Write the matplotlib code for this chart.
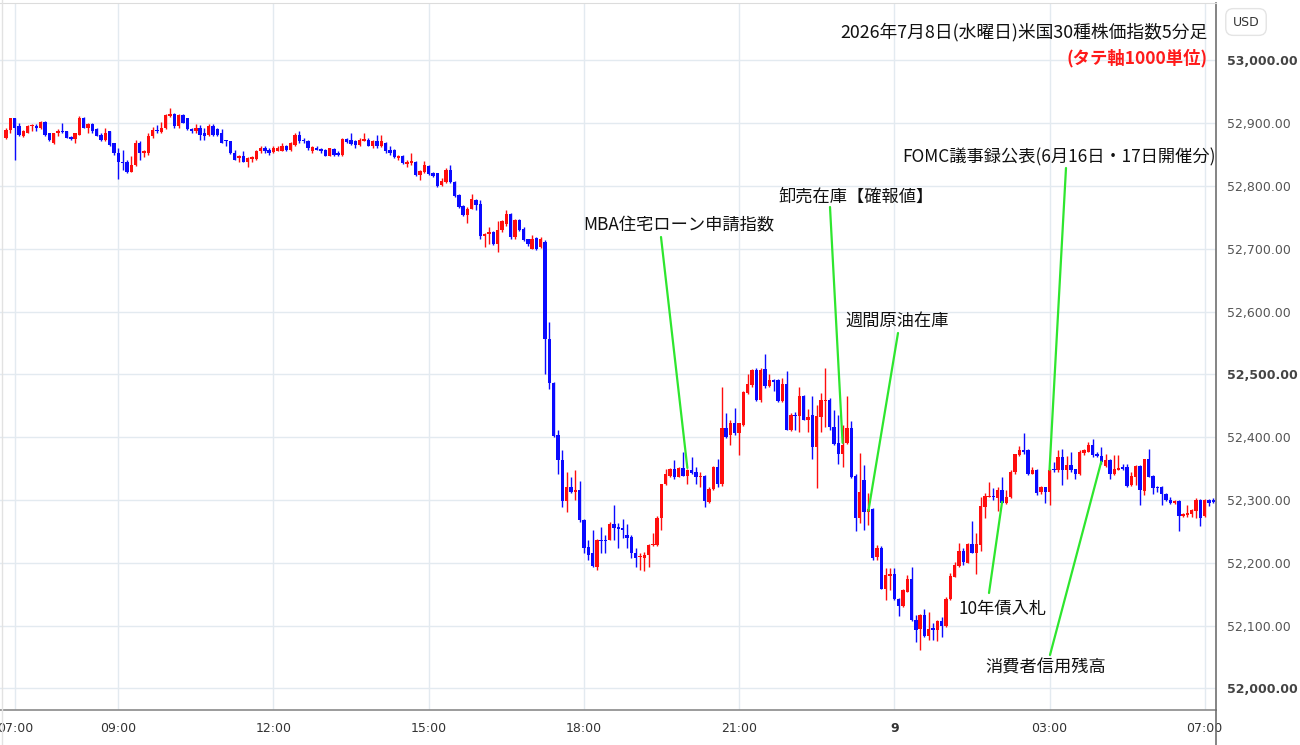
import matplotlib
matplotlib.use("Agg")
import matplotlib.pyplot as plt
from matplotlib.lines import Line2D

plt.rcParams['font.family'] = ['Noto Sans CJK JP', 'DejaVu Sans']

# ---------------- data (5-minute candles, index 0 = 07:00) ----------------
first_index = -2
opens = [
    52876, 52889, 52908, 52895, 52880, 52885, 52895, 52896, 52893, 52902,
    52884, 52868, 52884, 52888, 52887, 52878, 52875, 52882, 52909, 52892,
    52898, 52890, 52881, 52873, 52887, 52868, 52853, 52839, 52839, 52823,
    52833, 52869, 52852, 52852, 52879, 52889, 52886, 52892, 52912, 52914,
    52895, 52913, 52908, 52890, 52887, 52893, 52884, 52881, 52895, 52890,
    52884, 52872, 52871, 52852, 52844, 52847, 52839, 52843, 52843, 52855,
    52861, 52858, 52854, 52856, 52856, 52863, 52857, 52865, 52881, 52873,
    52872, 52856, 52860, 52859, 52857, 52848, 52859, 52853, 52849, 52875,
    52873, 52872, 52866, 52872, 52874, 52863, 52871, 52863, 52868, 52857,
    52857, 52844, 52848, 52835, 52836, 52839, 52817, 52823, 52832, 52821,
    52820, 52801, 52807, 52826, 52807, 52785, 52768, 52754, 52764, 52778,
    52771, 52720, 52723, 52727, 52707, 52730, 52739, 52755, 52718, 52746,
    52732, 52715, 52700, 52717, 52703, 52711, 52557, 52487, 52403, 52364,
    52298, 52320, 52313, 52316, 52268, 52225, 52215, 52193, 52237, 52236,
    52237, 52262, 52257, 52255, 52244, 52241, 52216, 52209, 52207, 52212,
    52228, 52229, 52272, 52325, 52339, 52350, 52337, 52351, 52339, 52348,
    52345, 52337, 52338, 52297, 52318, 52353, 52326, 52414, 52403, 52423,
    52406, 52419, 52471, 52483, 52507, 52459, 52508, 52481, 52491, 52491,
    52458, 52485, 52412, 52436, 52433, 52465, 52427, 52435, 52384, 52432,
    52458, 52460, 52417, 52390, 52374, 52391, 52415, 52338, 52272, 52332,
    52281, 52285, 52209, 52223, 52159, 52179, 52182, 52142, 52131, 52154,
    52174, 52109, 52094, 52117, 52083, 52096, 52093, 52107, 52100, 52142,
    52178, 52195, 52219, 52200, 52230, 52216, 52229, 52289, 52305, 52307,
    52303, 52316, 52296, 52304, 52344, 52372, 52380, 52380, 52342, 52348,
    52312, 52320, 52313, 52350, 52348, 52368, 52348, 52356, 52349, 52341,
    52375, 52377, 52388, 52373, 52370, 52354, 52364, 52342, 52348, 52353,
    52352, 52324, 52337, 52354, 52315, 52365, 52338, 52321, 52321, 52310,
    52300, 52296, 52299, 52274, 52276, 52278, 52283, 52300, 52274, 52300,
    52300,
]
highs = [
    52893, 52908, 52908, 52900, 52889, 52897, 52899, 52898, 52904, 52903,
    52885, 52885, 52890, 52901, 52888, 52880, 52885, 52912, 52910, 52900,
    52900, 52892, 52884, 52892, 52888, 52869, 52860, 52857, 52842, 52848,
    52873, 52871, 52858, 52884, 52894, 52897, 52902, 52915, 52924, 52916,
    52914, 52914, 52909, 52892, 52899, 52897, 52892, 52898, 52898, 52892,
    52890, 52873, 52872, 52857, 52849, 52855, 52846, 52848, 52857, 52863,
    52863, 52860, 52863, 52863, 52868, 52866, 52870, 52884, 52888, 52877,
    52873, 52864, 52864, 52860, 52859, 52861, 52860, 52856, 52876, 52877,
    52884, 52874, 52876, 52884, 52876, 52873, 52881, 52881, 52870, 52863,
    52859, 52850, 52849, 52841, 52853, 52840, 52825, 52840, 52833, 52823,
    52821, 52812, 52828, 52833, 52808, 52788, 52770, 52767, 52787, 52780,
    52777, 52725, 52734, 52729, 52745, 52746, 52762, 52757, 52747, 52747,
    52734, 52716, 52722, 52719, 52718, 52714, 52584, 52488, 52411, 52379,
    52345, 52337, 52347, 52331, 52270, 52236, 52252, 52238, 52257, 52244,
    52265, 52292, 52263, 52270, 52262, 52244, 52223, 52215, 52217, 52230,
    52248, 52274, 52326, 52350, 52351, 52364, 52353, 52377, 52350, 52368,
    52353, 52345, 52340, 52320, 52354, 52366, 52480, 52438, 52427, 52446,
    52423, 52474, 52501, 52508, 52510, 52510, 52533, 52501, 52492, 52492,
    52495, 52506, 52438, 52440, 52480, 52467, 52445, 52465, 52451, 52470,
    52510, 52462, 52443, 52435, 52419, 52465, 52426, 52342, 52375, 52356,
    52311, 52287, 52228, 52226, 52191, 52191, 52191, 52144, 52159, 52180,
    52193, 52117, 52118, 52127, 52122, 52104, 52109, 52114, 52145, 52183,
    52202, 52231, 52223, 52232, 52267, 52248, 52305, 52311, 52328, 52319,
    52321, 52336, 52316, 52348, 52374, 52386, 52407, 52382, 52352, 52350,
    52322, 52321, 52350, 52361, 52380, 52381, 52370, 52377, 52350, 52380,
    52382, 52393, 52397, 52377, 52384, 52373, 52365, 52372, 52372, 52358,
    52358, 52345, 52356, 52356, 52366, 52381, 52340, 52322, 52322, 52311,
    52304, 52300, 52300, 52279, 52292, 52285, 52303, 52301, 52301, 52301,
    52303,
]
lows = [
    52875, 52884, 52842, 52880, 52878, 52884, 52888, 52888, 52891, 52880,
    52872, 52867, 52880, 52885, 52876, 52874, 52868, 52881, 52892, 52885,
    52885, 52879, 52871, 52872, 52863, 52849, 52811, 52826, 52821, 52822,
    52832, 52841, 52846, 52849, 52876, 52885, 52885, 52890, 52910, 52893,
    52893, 52900, 52889, 52885, 52885, 52874, 52873, 52880, 52880, 52880,
    52868, 52863, 52851, 52841, 52839, 52838, 52831, 52839, 52841, 52853,
    52853, 52850, 52852, 52855, 52855, 52855, 52856, 52864, 52869, 52869,
    52858, 52853, 52857, 52853, 52847, 52847, 52847, 52848, 52848, 52868,
    52865, 52860, 52864, 52871, 52863, 52861, 52861, 52862, 52853, 52850,
    52844, 52841, 52835, 52831, 52833, 52816, 52809, 52821, 52817, 52815,
    52799, 52800, 52805, 52805, 52783, 52765, 52752, 52741, 52763, 52762,
    52716, 52703, 52708, 52706, 52695, 52727, 52737, 52716, 52716, 52728,
    52712, 52704, 52699, 52698, 52702, 52501, 52477, 52400, 52342, 52289,
    52281, 52311, 52300, 52265, 52216, 52204, 52193, 52188, 52215, 52215,
    52236, 52236, 52223, 52239, 52223, 52207, 52193, 52188, 52187, 52193,
    52227, 52227, 52253, 52324, 52337, 52333, 52336, 52338, 52326, 52342,
    52325, 52321, 52289, 52295, 52316, 52321, 52323, 52399, 52387, 52403,
    52371, 52418, 52469, 52480, 52458, 52456, 52479, 52480, 52474, 52456,
    52456, 52411, 52410, 52411, 52408, 52427, 52409, 52366, 52319, 52409,
    52417, 52411, 52388, 52358, 52352, 52389, 52335, 52250, 52263, 52252,
    52260, 52205, 52205, 52158, 52141, 52157, 52141, 52115, 52129, 52153,
    52108, 52074, 52061, 52082, 52077, 52077, 52076, 52082, 52098, 52141,
    52177, 52194, 52196, 52199, 52215, 52182, 52218, 52271, 52304, 52300,
    52283, 52295, 52294, 52303, 52342, 52370, 52373, 52340, 52341, 52308,
    52310, 52296, 52292, 52345, 52345, 52324, 52334, 52345, 52333, 52340,
    52372, 52376, 52369, 52368, 52358, 52352, 52334, 52340, 52347, 52347,
    52321, 52322, 52324, 52292, 52308, 52336, 52310, 52313, 52292, 52299,
    52294, 52294, 52250, 52273, 52273, 52273, 52272, 52259, 52273, 52290,
    52295,
]
closes = [
    52889, 52908, 52893, 52881, 52887, 52896, 52896, 52893, 52902, 52882,
    52873, 52884, 52888, 52886, 52877, 52875, 52884, 52909, 52893, 52899,
    52888, 52880, 52873, 52884, 52865, 52852, 52839, 52837, 52823, 52833,
    52869, 52852, 52855, 52880, 52889, 52888, 52893, 52913, 52914, 52895,
    52913, 52901, 52890, 52887, 52893, 52882, 52880, 52895, 52881, 52881,
    52869, 52871, 52852, 52842, 52847, 52839, 52844, 52846, 52856, 52860,
    52855, 52852, 52860, 52861, 52863, 52857, 52869, 52881, 52871, 52872,
    52860, 52862, 52858, 52855, 52848, 52860, 52849, 52850, 52875, 52870,
    52867, 52865, 52874, 52875, 52864, 52872, 52863, 52871, 52855, 52852,
    52846, 52848, 52836, 52839, 52840, 52817, 52824, 52833, 52819, 52816,
    52800, 52808, 52826, 52807, 52784, 52767, 52754, 52764, 52780, 52769,
    52720, 52723, 52727, 52707, 52730, 52745, 52755, 52718, 52746, 52730,
    52714, 52707, 52716, 52699, 52716, 52556, 52486, 52402, 52363, 52298,
    52321, 52313, 52316, 52268, 52224, 52212, 52195, 52237, 52234, 52234,
    52262, 52255, 52254, 52252, 52240, 52216, 52207, 52210, 52212, 52228,
    52229, 52272, 52325, 52342, 52350, 52336, 52351, 52339, 52348, 52343,
    52337, 52338, 52298, 52318, 52353, 52326, 52414, 52400, 52423, 52406,
    52422, 52472, 52485, 52507, 52459, 52507, 52481, 52491, 52488, 52458,
    52485, 52412, 52436, 52433, 52465, 52428, 52432, 52384, 52433, 52459,
    52460, 52417, 52389, 52374, 52388, 52415, 52336, 52272, 52313, 52281,
    52285, 52207, 52223, 52159, 52181, 52182, 52142, 52131, 52157, 52174,
    52109, 52093, 52117, 52083, 52094, 52093, 52107, 52100, 52143, 52179,
    52196, 52219, 52202, 52230, 52216, 52230, 52290, 52306, 52307, 52304,
    52316, 52296, 52305, 52344, 52373, 52380, 52377, 52341, 52347, 52311,
    52320, 52312, 52348, 52348, 52368, 52348, 52356, 52348, 52341, 52377,
    52380, 52388, 52372, 52370, 52361, 52364, 52342, 52349, 52351, 52350,
    52322, 52338, 52354, 52316, 52365, 52337, 52319, 52319, 52309, 52300,
    52296, 52299, 52274, 52278, 52279, 52284, 52300, 52272, 52300, 52296,
    52297,
]

time_tick_index = [0, 24, 60, 96, 132, 168, 204, 240, 276]
time_tick_labels = ["07:00", "09:00", "12:00", "15:00", "18:00", "21:00", "9", "03:00", "07:00"]
price_ticks = [52000, 52100, 52200, 52300, 52400, 52500, 52600, 52700, 52800, 52900, 53000]

title_text = "2026年7月8日(水曜日)米国30種株価指数5分足"
subtitle_text = "(タテ軸1000単位)"

# event annotations: label, candle index, price the pointer reaches
event_labels = ["MBA住宅ローン申請指数", "卸売在庫【確報値】", "週間原油在庫",
                "FOMC議事録公表(6月16日・17日開催分)", "10年債入札", "消費者信用残高"]
event_index = [156, 192, 198, 240, 229, 252]
event_price = [52351, 52391, 52283, 52348, 52297, 52361]

# ---------------- layout ----------------
W, H = 1300, 745
fig = plt.figure(figsize=(W / 100, H / 100), dpi=100)
ax_left, ax_right, ax_top, ax_bottom = 0, 1215.5, 3, 710
ax = fig.add_axes([ax_left / W, (H - ax_bottom) / H,
                   (ax_right - ax_left) / W, (ax_bottom - ax_top) / H])

n = len(closes)
xs = list(range(first_index, first_index + n))

up_col = '#ff0d0d'
dn_col = '#0a0aff'
cols = [up_col if c >= o else dn_col for o, c in zip(opens, closes)]

ax.vlines(xs, lows, highs, colors=cols, linewidth=1.0, zorder=3)
bottoms = [min(o, c) for o, c in zip(opens, closes)]
heights = [max(abs(c - o), 1.6) for o, c in zip(opens, closes)]
ax.bar(xs, heights, bottom=bottoms, width=0.78, color=cols, linewidth=0, zorder=4)

ax.set_xlim(-3.43, 278.5)
ax.set_ylim(51965.6, 53091.4)

# grid
grid_col = '#e3eaf0'
ax.set_yticks(price_ticks)
ax.set_xticks(time_tick_index)
ax.grid(True, color=grid_col, linewidth=1.0, zorder=0)
ax.set_axisbelow(True)

# spines
ax.spines['left'].set_visible(False)
ax.spines['top'].set_color('#dcdcdc')
ax.spines['bottom'].set_color('#8a8a8a')
ax.spines['right'].set_color('#6f6f6f')
ax.spines['bottom'].set_linewidth(1.2)
ax.spines['right'].set_linewidth(1.2)

# y labels on right
ax.yaxis.tick_right()
ax.tick_params(axis='y', length=0, pad=8, labelsize=9, labelcolor='#555555')
ax.set_yticklabels([f"{v:,.2f}" for v in price_ticks], fontfamily='DejaVu Sans')
for lab, v in zip(ax.get_yticklabels(), price_ticks):
    if v % 500 == 0:
        lab.set_fontweight('bold')
        lab.set_color('#444444')

# x labels
ax.tick_params(axis='x', length=0, pad=9, labelsize=9, labelcolor='#333333')
ax.set_xticklabels(time_tick_labels, fontfamily='DejaVu Sans')
for lab, t in zip(ax.get_xticklabels(), time_tick_labels):
    if ':' not in t:
        lab.set_fontweight('bold')

# right axis line continues to the bottom of the figure
fig.add_artist(Line2D([ax_right / W, ax_right / W], [0, (H - ax_bottom) / H],
                      color='#6f6f6f', linewidth=1.2))
# left border
fig.add_artist(Line2D([1.5 / W, 1.5 / W], [0, 1], color='#e2e2e2', linewidth=1.0))

# USD box
fig.text(1246 / W, 1 - 22 / H, "USD", ha='center', va='center', fontsize=9,
         color='#333333', fontfamily='DejaVu Sans',
         bbox=dict(boxstyle='round,pad=0.55,rounding_size=0.6', fc='white', ec='#e4e4e4', lw=1))

# titles
fig.text(1208 / W, 1 - 32 / H, title_text, ha='right', va='center', fontsize=12.8, color='#111111')
fig.text(1208 / W, 1 - 58 / H, subtitle_text, ha='right', va='center', fontsize=12.5,
         color='#ff1a1a', fontweight='bold')

# annotations
label_pos = [(583, 225), (778, 197), (845, 321), (902, 157), (958, 609), (985, 668)]
line_start = [(661, 237), (830, 207), (898, 333), (1066, 168), (989, 593), (1050, 655)]
green = '#2ee62e'
for lbl, (tx, ty), (lx, ly), idx, pr in zip(event_labels, label_pos, line_start,
                                            event_index, event_price):
    fig.text(tx / W, 1 - ty / H, lbl, ha='left', va='center', fontsize=12.4, color='#111111')
    ax.annotate('', xy=(idx, pr), xycoords='data', xytext=(lx, H - ly),
                textcoords='figure pixels',
                arrowprops=dict(arrowstyle='-', color=green, lw=1.6, shrinkA=0, shrinkB=0),
                zorder=6)

fig.savefig('out.png', dpi=100)
